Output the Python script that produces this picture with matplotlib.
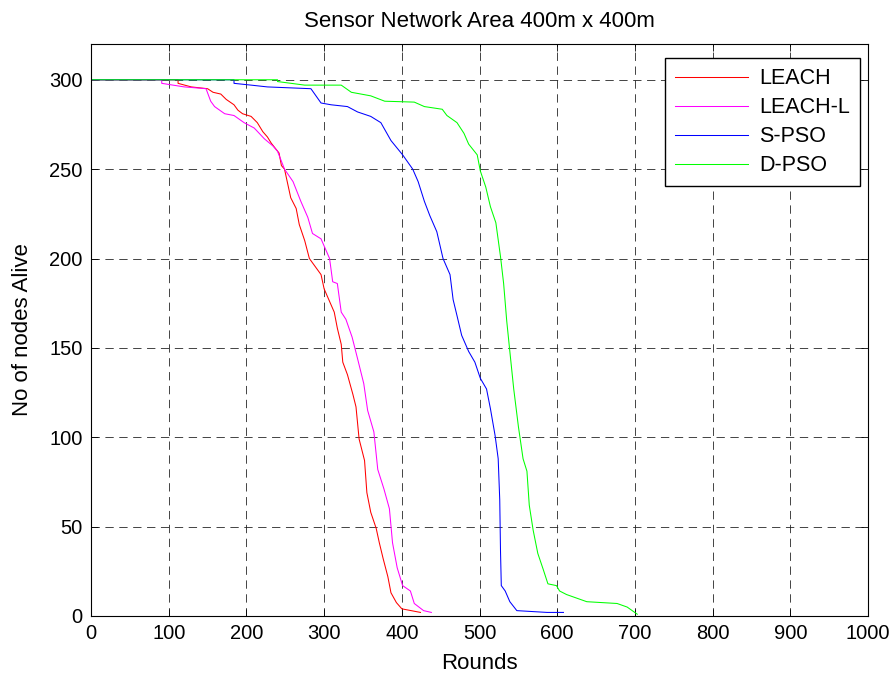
import matplotlib
matplotlib.use("Agg")
import matplotlib.pyplot as plt

plt.rcParams['font.family'] = ['Liberation Sans', 'DejaVu Sans']
plt.rcParams['lines.scale_dashes'] = False

leach_r = [0, 112, 112, 129, 150, 157, 167, 174, 184, 189, 195, 206, 214, 221, 227, 232, 242, 245, 249, 257, 264, 268, 275, 281, 296, 300,
           302, 313, 317, 322, 324, 330, 337, 341, 345, 352, 355, 360, 367, 371, 376, 382, 386, 393, 400, 412, 424]
leach_n = [300, 300, 298, 296, 295, 293, 292, 289, 286, 283, 281, 279.5, 276, 271, 268, 264.5, 259, 252, 250, 234, 228, 219, 210, 200, 191, 183,
           181, 170, 161, 152, 142, 135, 124, 117, 99, 87, 69, 58, 49, 41, 32, 22, 13, 7.5, 4, 3, 2]

leachl_r = [0, 91, 91, 120, 148, 154, 159, 172, 184, 197, 210, 223, 234, 240, 249, 260, 270, 279, 285, 296, 307,
            311, 317, 322, 328, 336, 343, 351, 356, 364, 369, 377, 384, 388, 394, 401, 411, 416, 428, 438]
leachl_n = [300, 300, 298, 296, 295, 288, 285, 281, 280, 276, 273, 267, 263, 260, 250, 243, 232, 223, 214, 211, 200,
            187, 186, 170, 166, 156, 144, 130, 115, 103, 82, 71, 60, 41, 27, 17, 14, 7, 3, 2]

spso_r = [0, 184, 184, 206, 227, 283, 296, 309, 330, 343, 360, 373, 386, 401, 414, 421, 429, 436, 445, 453, 462, 466,
          471, 477, 486, 494, 501, 509, 514, 520, 524, 526, 527, 528, 533, 539, 548, 587, 608]
spso_n = [300, 300, 298, 297, 296, 295, 287, 286, 285, 282, 279.5, 276, 266, 258, 250, 243, 232, 224, 215, 200, 191, 177,
          168, 157, 148, 142, 133, 127, 116, 101, 88, 65, 36, 17, 14, 8, 3, 2, 2]

dpso_r = [0, 240, 240, 275, 322, 335, 360, 378, 416, 429, 452, 458, 471, 480, 486, 497, 501, 508, 514, 521, 527, 531,
          535, 539, 544, 550, 556, 561, 564, 569, 575, 582, 588, 599, 603, 612, 625, 638, 677, 690, 703]
dpso_n = [300, 300, 299, 297, 297, 293, 291, 288, 287.5, 285, 283.5, 280, 276, 270, 264, 258, 249, 240, 229, 220, 201, 186,
          165, 148, 127, 106, 88, 81, 62, 48, 35, 26, 18, 17, 14, 12, 10, 8, 7, 5, 1]

fig = plt.figure(figsize=(8.96, 6.73), dpi=100)
ax = fig.add_axes([0.1016, 0.0847, 0.8672, 0.8499])

ax.plot(leach_r, leach_n, color='#ff0000', lw=0.75, label='LEACH')
ax.plot(leachl_r, leachl_n, color='#ff00ff', lw=0.75, label='LEACH-L')
ax.plot(spso_r, spso_n, color='#0000ff', lw=0.75, label='S-PSO')
ax.plot(dpso_r, dpso_n, color='#00ff00', lw=0.75, label='D-PSO')

ax.set_xlim(0, 1000)
ax.set_ylim(0, 320)
ax.set_xticks(range(0, 1001, 100))
ax.set_yticks(range(0, 301, 50))
ax.grid(True, color='#222222', linestyle=(0, (6, 4)), linewidth=0.7, alpha=0.85)
ax.tick_params(direction='in', top=True, right=True, labelsize=14.5, length=5, width=0.6, pad=6)
for s in ax.spines.values():
    s.set_linewidth(0.8)

ax.set_xlabel('Rounds', fontsize=16, labelpad=7)
ax.set_ylabel('No of nodes Alive', fontsize=16, labelpad=12)
ax.set_title('Sensor Network Area 400m x 400m', fontsize=16, pad=12)

leg = ax.legend(loc='upper right', bbox_to_anchor=(0.9897, 0.9757), fontsize=15.5, fancybox=False,
                edgecolor='black', framealpha=1, handlelength=3.4, borderpad=0.48, labelspacing=0.37,
                handletextpad=0.5, borderaxespad=0)
leg.get_frame().set_linewidth(1.0)

fig.savefig('out.png', dpi=100)
